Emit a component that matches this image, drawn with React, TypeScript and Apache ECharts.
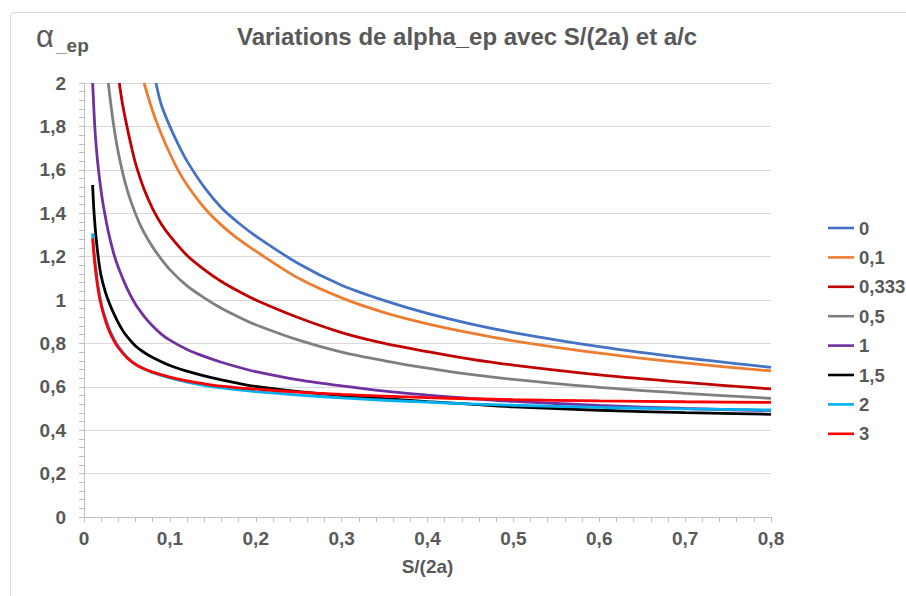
import React, { useEffect, useRef } from 'react';
import * as echarts from 'echarts';

const seriesNames = ['0', '0,1', '0,333', '0,5', '1', '1,5', '2', '3'];
const xTickLabels = ['0', '0,1', '0,2', '0,3', '0,4', '0,5', '0,6', '0,7', '0,8'];
const yTickLabels = ['0', '0,2', '0,4', '0,6', '0,8', '1', '1,2', '1,4', '1,6', '1,8', '2'];

// a/c = 0
const x0 = [0.0838, 0.09, 0.1, 0.11, 0.12, 0.14, 0.16, 0.18, 0.2, 0.25, 0.3, 0.35, 0.4, 0.45, 0.5, 0.6, 0.7, 0.8];
const y0 = [2.0, 1.9, 1.8, 1.715, 1.64, 1.52, 1.425, 1.355, 1.295, 1.167, 1.068, 0.997, 0.938, 0.89, 0.85, 0.785, 0.733, 0.69];
// a/c = 0,1
const x1 = [0.0699, 0.08, 0.09, 0.1, 0.11, 0.12, 0.14, 0.16, 0.18, 0.2, 0.25, 0.3, 0.35, 0.4, 0.45, 0.5, 0.6, 0.7, 0.8];
const y1 = [2.0, 1.87, 1.765, 1.675, 1.595, 1.53, 1.425, 1.345, 1.28, 1.225, 1.1, 1.01, 0.942, 0.89, 0.848, 0.812, 0.755, 0.71, 0.673];
// a/c = 0,333
const x2 = [0.0411, 0.045, 0.05, 0.055, 0.06, 0.07, 0.08, 0.09, 0.1, 0.12, 0.14, 0.16, 0.18, 0.2, 0.25, 0.3, 0.35, 0.4, 0.45, 0.5, 0.6, 0.7, 0.8];
const y2 = [2.0, 1.9, 1.8, 1.71, 1.63, 1.51, 1.42, 1.35, 1.295, 1.205, 1.14, 1.085, 1.04, 1.0, 0.918, 0.85, 0.8, 0.762, 0.728, 0.7, 0.655, 0.62, 0.59];
// a/c = 0,5
const x3 = [0.0283, 0.031, 0.034, 0.038, 0.042, 0.048, 0.055, 0.065, 0.075, 0.085, 0.1, 0.12, 0.14, 0.16, 0.18, 0.2, 0.25, 0.3, 0.35, 0.4, 0.45, 0.5, 0.6, 0.7, 0.8];
const y3 = [2.0, 1.91, 1.82, 1.72, 1.64, 1.54, 1.45, 1.35, 1.275, 1.215, 1.14, 1.065, 1.01, 0.962, 0.922, 0.886, 0.815, 0.76, 0.72, 0.686, 0.657, 0.634, 0.597, 0.57, 0.547];
// a/c = 1
const x4 = [0.0101, 0.011, 0.0124, 0.014, 0.0167, 0.02, 0.0225, 0.028, 0.0342, 0.04, 0.05, 0.06, 0.07, 0.08, 0.09, 0.1, 0.12, 0.14, 0.16, 0.18, 0.2, 0.25, 0.3, 0.35, 0.4, 0.45, 0.5, 0.6, 0.7, 0.8];
const y4 = [2.0, 1.92, 1.81, 1.72, 1.605, 1.5, 1.435, 1.32, 1.22, 1.15, 1.055, 0.98, 0.925, 0.88, 0.843, 0.815, 0.772, 0.74, 0.713, 0.69, 0.67, 0.632, 0.604, 0.58, 0.562, 0.546, 0.533, 0.514, 0.5, 0.49];
// a/c = 1,5
const x5 = [0.01, 0.011, 0.012, 0.014, 0.017, 0.02, 0.025, 0.03, 0.035, 0.04, 0.045, 0.05, 0.06, 0.07, 0.08, 0.1, 0.12, 0.14, 0.16, 0.18, 0.2, 0.25, 0.3, 0.35, 0.4, 0.45, 0.5, 0.6, 0.7, 0.8];
const y5 = [1.53, 1.45, 1.385, 1.29, 1.185, 1.11, 1.035, 0.98, 0.935, 0.895, 0.86, 0.832, 0.788, 0.758, 0.735, 0.698, 0.672, 0.65, 0.632, 0.616, 0.602, 0.578, 0.56, 0.545, 0.532, 0.52, 0.508, 0.492, 0.481, 0.473];
// a/c = 2
const x6 = [0.01, 0.012, 0.014, 0.016, 0.0186, 0.022, 0.026, 0.03, 0.035, 0.04, 0.05, 0.06, 0.07, 0.08, 0.1, 0.12, 0.14, 0.16, 0.18, 0.2, 0.25, 0.3, 0.35, 0.4, 0.45, 0.5, 0.6, 0.7, 0.8];
const y6 = [1.307, 1.21, 1.14, 1.075, 1.015, 0.955, 0.905, 0.862, 0.82, 0.786, 0.737, 0.704, 0.682, 0.665, 0.641, 0.622, 0.607, 0.595, 0.586, 0.578, 0.562, 0.549, 0.538, 0.529, 0.521, 0.515, 0.505, 0.498, 0.493];
// a/c = 3
const x7 = [0.01, 0.012, 0.014, 0.016, 0.0186, 0.022, 0.026, 0.03, 0.035, 0.04, 0.05, 0.06, 0.07, 0.08, 0.1, 0.12, 0.14, 0.16, 0.18, 0.2, 0.25, 0.3, 0.35, 0.4, 0.45, 0.5, 0.6, 0.7, 0.8];
const y7 = [1.284, 1.19, 1.12, 1.06, 1.0, 0.945, 0.893, 0.852, 0.812, 0.78, 0.734, 0.703, 0.683, 0.668, 0.645, 0.627, 0.614, 0.603, 0.595, 0.589, 0.575, 0.565, 0.557, 0.55, 0.545, 0.541, 0.535, 0.531, 0.528];

const xs = [x0, x1, x2, x3, x4, x5, x6, x7];
const ys = [y0, y1, y2, y3, y4, y5, y6, y7];
const colors = ['#4472C4', '#ED7D31', '#C00000', '#7F7F7F', '#7030A0', '#000000', '#00B0F0', '#FF0000'];

const labelColor = '#595959';
const fontFamily = '"Liberation Sans", Arial, sans-serif';

export default function App() {
  const ref = useRef<HTMLDivElement>(null);
  useEffect(() => {
    document.body.style.margin = '0';
    if (!ref.current) return;
    const chart = echarts.init(ref.current, undefined, { renderer: 'svg' });
    const series = seriesNames.map((name, i) => ({
      name,
      type: 'line',
      data: xs[i].map((x, j) => [x, ys[i][j]]),
      symbol: 'none',
      smooth: 0.3,
      lineStyle: { color: colors[i], width: 2.8 },
      itemStyle: { color: colors[i] },
      clip: true,
    }));
    chart.setOption({
      animation: false,
      backgroundColor: '#ffffff',
      textStyle: { fontFamily },
      title: {
        text: 'Variations de alpha_ep avec S/(2a) et a/c',
        left: 232,
        top: 19,
        textStyle: { fontFamily, fontSize: 24, fontWeight: 'bold', color: labelColor },
      },
      legend: {
        orient: 'vertical',
        left: 823,
        top: 213,
        itemWidth: 26,
        itemHeight: 14,
        itemGap: 9.4,
        icon: 'path://M0,6 L26,6 L26,8.6 L0,8.6 Z',
        textStyle: { fontFamily, fontSize: 18.5, fontWeight: 'bold', color: labelColor, lineHeight: 20 },
        data: seriesNames,
      },
      grid: { left: 84, right: 135, top: 83, bottom: 79 },
      xAxis: {
        type: 'value',
        min: 0,
        max: 0.8,
        interval: 0.1,
        name: 'S/(2a)',
        nameLocation: 'middle',
        nameGap: 40,
        nameTextStyle: { fontFamily, fontSize: 19, fontWeight: 'bold', color: labelColor },
        axisLine: { show: true, lineStyle: { color: '#BFBFBF', width: 1 } },
        axisTick: { show: true, length: 5, lineStyle: { color: '#BFBFBF' } },
        minorTick: { show: true, splitNumber: 5, length: 5, lineStyle: { color: '#BFBFBF' } },
        splitLine: { show: false },
        axisLabel: {
          margin: 12,
          fontFamily,
          fontSize: 19,
          fontWeight: 'bold',
          color: labelColor,
          formatter: (v: number) => xTickLabels[Math.round(v / 0.1)] ?? '',
        },
      },
      yAxis: {
        type: 'value',
        min: 0,
        max: 2,
        interval: 0.2,
        axisLine: { show: true, lineStyle: { color: '#BFBFBF', width: 1 } },
        axisTick: { show: true, length: 5, lineStyle: { color: '#BFBFBF' } },
        minorTick: { show: true, splitNumber: 5, length: 5, lineStyle: { color: '#BFBFBF' } },
        splitLine: { show: true, lineStyle: { color: '#D9D9D9', width: 1 } },
        axisLabel: {
          margin: 18,
          fontFamily,
          fontSize: 19,
          fontWeight: 'bold',
          color: labelColor,
          formatter: (v: number) => yTickLabels[Math.round(v / 0.2)] ?? '',
        },
      },
      graphic: [
        {
          type: 'rect',
          shape: { x: 10.5, y: 12.5, width: 1000, height: 1000, r: 4 },
          style: { fill: 'none', stroke: '#D9D9D9', lineWidth: 1 },
          silent: true,
          z: -10,
        },
        {
          type: 'text',
          left: 36,
          top: 21,
          style: { text: 'α', fontFamily, fontSize: 31, fill: labelColor },
        },
        {
          type: 'text',
          left: 56,
          top: 36,
          style: { text: '_ep', fontFamily, fontSize: 19, fontWeight: 'bold', fill: labelColor },
        },
      ],
      series,
    });
    return () => chart.dispose();
  }, []);
  return <div ref={ref} style={{ width: 906, height: 596 }} />;
}
